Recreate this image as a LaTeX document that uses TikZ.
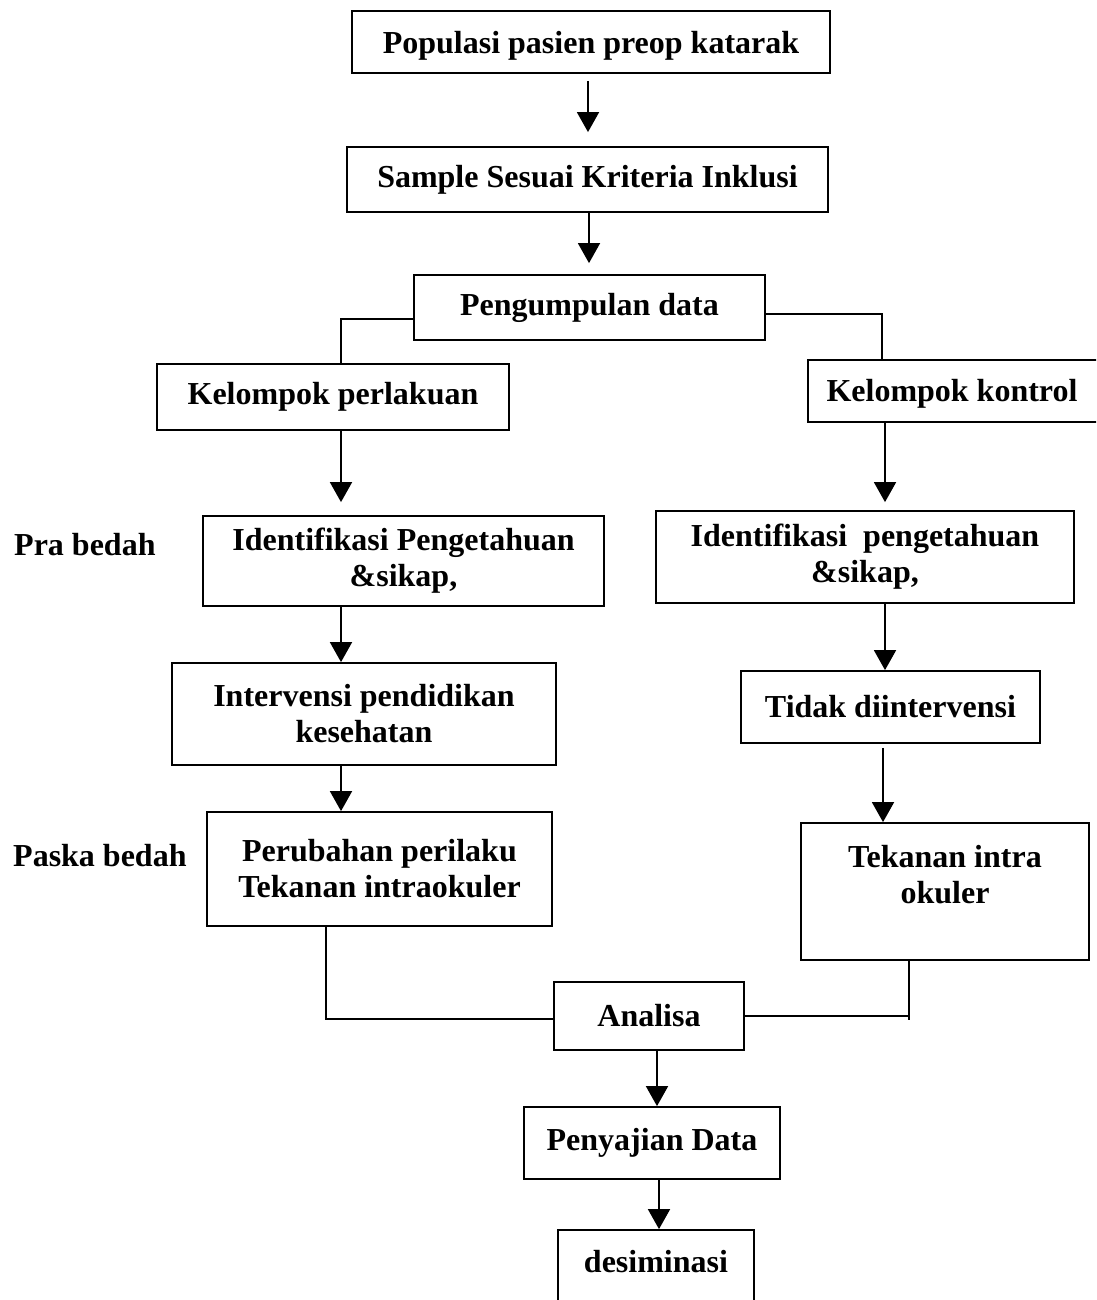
\documentclass[tikz,border=0pt]{standalone}
\usepackage{fontspec}
\setmainfont{Liberation Serif}
\usetikzlibrary{arrows.meta}
\begin{document}
\begin{tikzpicture}[x=1pt,y=-1pt,
  box/.style={draw, line width=1.8pt, rectangle, inner sep=0pt, align=center,
    font=\fontsize{32}{36}\selectfont\bfseries},
  side/.style={inner sep=0pt, anchor=west, font=\fontsize{32}{36}\selectfont\bfseries},
  conn/.style={line width=1.8pt},
  arr/.style={line width=1.8pt, -{Triangle[width=22pt,length=20pt]}}]
\useasboundingbox (0,0) rectangle (1096,1300);
\clip (0,0) rectangle (1096,1300);
% boxes
\node[box, minimum width=478pt, minimum height=62pt, text height=26pt, text depth=2pt] (b1) at (591,42) {Populasi pasien preop katarak};
\node[box, minimum width=481pt, minimum height=65pt] (b2) at (587.5,179.5) {Sample Sesuai Kriteria Inklusi};
\node[box, minimum width=351pt, minimum height=65pt] (b3) at (589.5,307.5) {Pengumpulan data};
\node[box, minimum width=352pt, minimum height=66pt] (b4) at (333,397) {Kelompok perlakuan};
\node[box, minimum width=300pt, minimum height=62pt, text height=24pt, text depth=4pt] (b5) at (958,391) {\hspace*{-12pt}Kelompok kontrol};
\node[box, minimum width=401pt, minimum height=90pt] (b6) at (403.5,561) {Identifikasi Pengetahuan\\\&sikap,};
\node[box, minimum width=418pt, minimum height=92pt] (b7) at (865,557) {Identifikasi\ \ pengetahuan\\\&sikap,};
\node[box, minimum width=384pt, minimum height=102pt] (b8) at (364,714) {Intervensi pendidikan\\kesehatan};
\node[box, minimum width=299pt, minimum height=72pt] (b9) at (890.5,707) {Tidak diintervensi};
\node[box, minimum width=345pt, minimum height=114pt] (b10) at (379.5,869) {Perubahan perilaku\\Tekanan intraokuler};
\node[box, minimum width=288pt, minimum height=137pt] (b11) at (945,891.5) {Tekanan intra\\okuler\\[-13pt]\strut};
\node[box, minimum width=190pt, minimum height=68pt] (b12) at (649,1016) {Analisa};
\node[box, minimum width=256pt, minimum height=72pt] (b13) at (652,1143) {Penyajian Data};
\node[box, minimum width=196pt, minimum height=120pt] (b14) at (656,1290) {desiminasi\\[10pt]\strut};
% side labels
\node[side] (pra) at (14,545) {Pra bedah};
\node[side] (paska) at (13,856) {Paska bedah};
% column coordinates
\coordinate (xA) at (588,0);
\coordinate (xB) at (589,0);
\coordinate (xL) at (341,0);
\coordinate (xR) at (885,0);
\coordinate (xR2) at (883,0);
\coordinate (xC) at (657,0);
\coordinate (xD) at (659,0);
\coordinate (cL) at (341,319);
\coordinate (cR) at (882,314);
\coordinate (cAL) at (326,1019);
\coordinate (cAR) at (909,1016);
% arrows
\draw[arr, shorten <=7pt, shorten >=14pt] (b1.south -| xA) -- (b2.north -| xA);
\draw[arr, shorten >=11pt] (b2.south -| xB) -- (b3.north -| xB);
\draw[conn] (b3.west |- cL) -| (b4.north -| cL);
\draw[conn] (b3.east |- cR) -| (b5.north -| cR);
\draw[arr, shorten >=13pt] (b4.south -| xL) -- (b6.north -| xL);
\draw[arr, shorten >=8pt] (b5.south -| xR) -- (b7.north -| xR);
\draw[arr] (b6.south -| xL) -- (b8.north -| xL);
\draw[arr] (b7.south -| xR) -- (b9.north -| xR);
\draw[arr] (b8.south -| xL) -- (b10.north -| xL);
\draw[arr, shorten <=4pt] (b9.south -| xR2) -- (b11.north -| xR2);
\draw[conn] (b10.south -| cAL) |- (b12.west |- cAL);
\draw[conn] (b11.south -| cAR) -- ++(0,59) (b12.east |- cAR) -- (cAR);
\draw[arr] (b12.south -| xC) -- (b13.north -| xC);
\draw[arr] (b13.south -| xD) -- (b14.north -| xD);
\end{tikzpicture}
\end{document}
